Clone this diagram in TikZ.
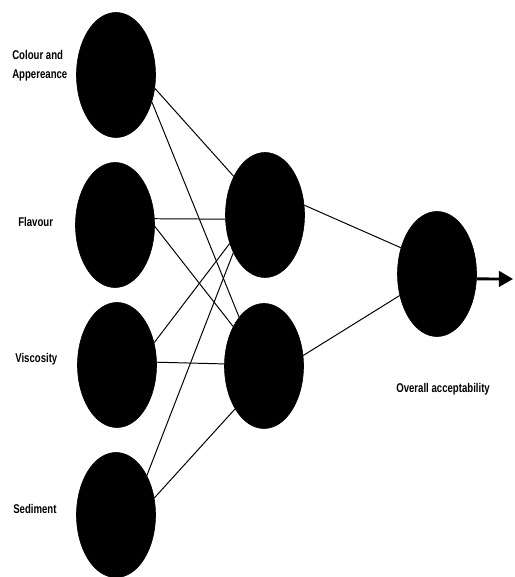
\documentclass[tikz,border=0pt]{standalone}
\usepackage{fontspec}
\setmainfont[FakeStretch=0.76]{Liberation Sans}
\usetikzlibrary{shapes.geometric,arrows.meta}

\begin{document}
\begin{tikzpicture}[x=0.025cm,y=0.025cm,>={Triangle[length=10pt,width=11pt]}, line join = round,
		font=\fontsize{9}{13.6}\selectfont\bfseries,
		neuron/.style={ellipse,fill=black,draw=black,minimum width=1.975cm,minimum height=3.125cm,inner sep=0pt},
		link/.style={line width=0.7pt}]
				\useasboundingbox (0,0) rectangle (514,577);
				\foreach \n/\x/\y in {in1/116/502,in2/115/352,in3/117/212,in4/116/62,h1/265/362,h2/264/211,out/437/303}
				\node[neuron] (\n) at (\x,\y) {};
				% labels
				\node[anchor=west,align=left,inner sep=0pt] (colour) at (12,511) {Colour and\\Appereance};
				\node[anchor=base west,inner sep=0pt] (flavour) at (18,350) {Flavour};
				\node[anchor=base west,inner sep=0pt] (viscosity) at (15,214) {Viscosity};
				\node[anchor=base west,inner sep=0pt] (sediment) at (13,63) {Sediment};
				\node[anchor=base west,inner sep=0pt] (overall) at (396,184) {Overall acceptability};
				% links
				\foreach \a/\b in {in1.-19/h1.129,in1.-37/h2.117,in2.9/h1.186,in2.-2/h2.128,in3.31/h1.219,in3.4/h2.177,in4.52/h1.230,in4.24/h2.236,h1.14/out.144,h2.15/out.210}
				\draw[link] (\a) -- (\b);
				\coordinate (tip) at (513,298);
				\draw[line width=2pt,->] (out.-7) -- (tip);
		\end{tikzpicture}
\end{document}
